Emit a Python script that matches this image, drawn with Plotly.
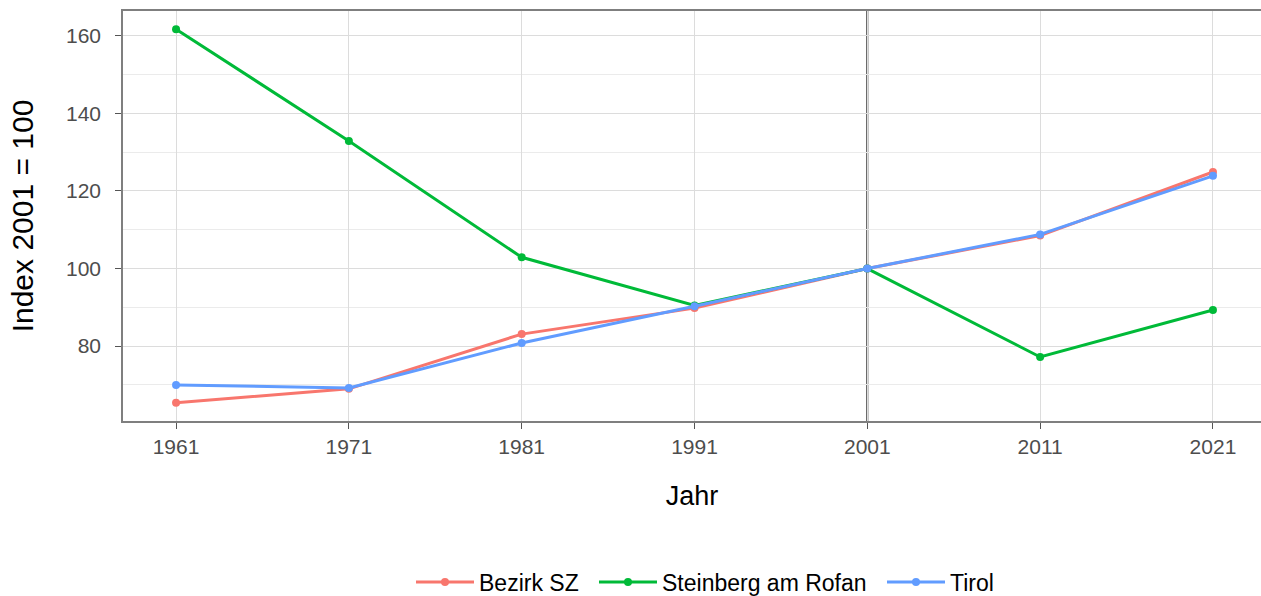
import plotly.graph_objects as go

years = [1961, 1971, 1981, 1991, 2001, 2011, 2021]
bezirk_sz = [65.4, 69.0, 83.1, 89.8, 100.0, 108.5, 124.9]
steinberg = [161.7, 132.9, 102.9, 90.5, 100.0, 77.2, 89.3]
tirol = [70.0, 69.2, 80.8, 90.3, 100.0, 108.8, 123.9]

series_names = ["Bezirk SZ", "Steinberg am Rofan", "Tirol"]
series_values = [bezirk_sz, steinberg, tirol]
colors = ["#F8766D", "#00BA38", "#619CFF"]
x_ticks = [1961, 1971, 1981, 1991, 2001, 2011, 2021]
y_ticks = [80, 100, 120, 140, 160]
ref_year = 2001

W, H = 1261, 596
legend_ids = ["legend", "legend2", "legend3"]
legend_px = [417, 600, 888]  # left pixel of each legend entry

fig = go.Figure()
for name, vals, col, lid in zip(series_names, series_values, colors, legend_ids):
    fig.add_trace(go.Scatter(
        x=years, y=vals, name=name, mode="lines+markers",
        line=dict(color=col, width=3),
        marker=dict(color=col, size=8),
        legend=lid,
    ))

fig.add_vline(x=ref_year, line=dict(color="black", width=1.8), layer="below")

legend_common = dict(
    orientation="h", xanchor="left",
    xref="container", yref="container", y=(H - 582) / H, yanchor="middle",
    font=dict(size=23, color="black"), itemwidth=58,
    bgcolor="rgba(0,0,0,0)", borderwidth=0,
)
layout_legends = {}
for lid, px in zip(legend_ids, legend_px):
    layout_legends[lid] = dict(legend_common, x=(px - 6) / W)

fig.update_layout(
    width=W, height=H,
    margin=dict(l=123, r=0, t=11, b=175),
    paper_bgcolor="white", plot_bgcolor="white",
    font=dict(family="Liberation Sans, Arial, sans-serif", color="black"),
    showlegend=True,
    **layout_legends,
)
fig.update_xaxes(
    range=[1957.93, 2023.78],
    tickvals=x_ticks, ticktext=[str(t) for t in x_ticks],
    showgrid=True, gridcolor="#dcdcdc", gridwidth=1,
    showline=True, linecolor="#7f7f7f", linewidth=1.5, mirror=True,
    ticks="outside", ticklen=6, tickcolor="#555555", tickwidth=1.2,
    tickfont=dict(size=21, color="#4d4d4d"),
    title=dict(text="Jahr", font=dict(size=27, color="black"), standoff=29),
    zeroline=False,
)
fig.update_yaxes(
    range=[60.7, 166.4],
    tickvals=y_ticks,
    showgrid=True, gridcolor="#dcdcdc", gridwidth=1,
    minor=dict(dtick=10, tick0=0, showgrid=True, gridcolor="#ebebeb", gridwidth=1),
    showline=True, linecolor="#7f7f7f", linewidth=1.5, mirror=False,
    ticks="outside", ticklen=6, tickcolor="#555555", tickwidth=1.2,
    ticklabelstandoff=10,
    tickfont=dict(size=21, color="#4d4d4d"),
    title=dict(text="Index 2001 = 100", font=dict(size=30, color="black"), standoff=24),
    zeroline=False,
)

fig.write_html(
    "out.html",
    config={"displayModeBar": False},
    post_script="document.body.style.margin='0px';document.body.style.overflow='hidden';",
)
